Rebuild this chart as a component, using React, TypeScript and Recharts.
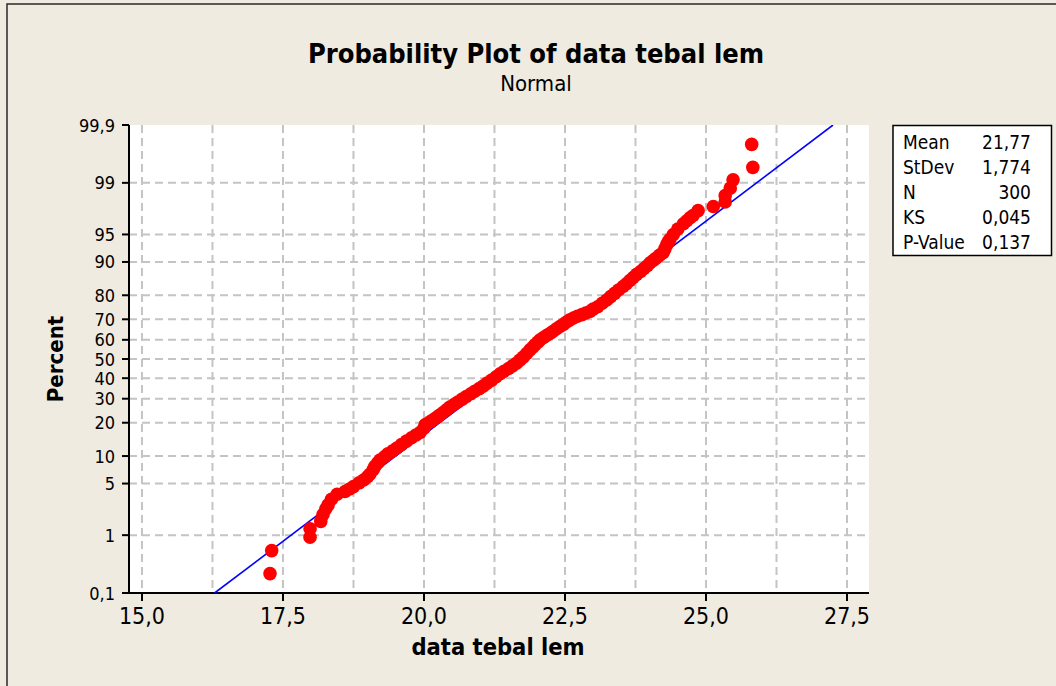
import React from "react";
import { ScatterChart, Scatter, XAxis, YAxis, CartesianGrid } from "recharts";

// ---- data ----
const dataX = [
  17.27, 17.3, 17.98, 17.98, 18.17, 18.21, 18.26, 18.3, 18.36, 18.46, 18.6, 18.68, 18.75, 18.85, 18.93,
  19.0, 19.04, 19.1, 19.13, 19.18, 19.22, 19.3, 19.36, 19.45, 19.52, 19.6, 19.69, 19.78, 19.86, 19.93,
  20.0, 20.02, 20.07, 20.12, 20.17, 20.22, 20.28, 20.34, 20.4, 20.46, 20.53, 20.6, 20.68, 20.75, 20.83,
  20.9, 20.98, 21.05, 21.12, 21.2, 21.28, 21.35, 21.42, 21.5, 21.57, 21.64, 21.7, 21.76, 21.82, 21.88,
  21.93, 21.97, 22.02, 22.06, 22.12, 22.18, 22.24, 22.29, 22.35, 22.41, 22.47, 22.52, 22.58, 22.65, 22.72,
  22.8, 22.87, 22.94, 23.0, 23.08, 23.16, 23.24, 23.31, 23.38, 23.45, 23.53, 23.59, 23.65, 23.71, 23.77,
  23.84, 23.9, 23.96, 24.01, 24.07, 24.12, 24.18, 24.24, 24.27, 24.3, 24.33, 24.36, 24.42, 24.5, 24.6,
  24.66, 24.72, 24.77, 24.86, 25.13, 25.34, 25.34, 25.43, 25.48, 25.83, 25.81,
];
const dataPercent = [
  0.23, 0.57, 0.93, 1.25, 1.6, 2.0, 2.4, 2.7, 3.2, 3.7, 4.0, 4.3, 4.6, 5.1, 5.5,
  6.0, 6.4, 7.2, 7.8, 8.5, 9.1, 9.8, 10.5, 11.3, 12.0, 12.9, 13.9, 14.9, 15.8, 16.6,
  18.0, 19.2, 19.8, 20.5, 21.2, 22.0, 23.0, 24.0, 25.1, 26.3, 27.4, 28.5, 29.8, 31.0, 32.3,
  33.5, 34.8, 36.0, 37.5, 39.0, 40.7, 42.3, 43.6, 45.0, 46.4, 47.8, 49.4, 51.0, 52.9, 54.8,
  56.2, 57.5, 58.8, 60.0, 61.2, 62.3, 63.3, 64.3, 65.5, 66.6, 67.6, 68.6, 69.6, 70.6, 71.4,
  72.1, 72.8, 73.5, 74.5, 75.5, 76.9, 78.2, 79.5, 80.7, 81.9, 83.1, 84.0, 85.0, 85.9, 86.8,
  87.6, 88.4, 89.1, 89.8, 90.4, 90.9, 91.5, 92.0, 92.7, 93.4, 93.9, 94.3, 95.0, 95.7, 96.3,
  96.6, 96.9, 97.1, 97.5, 97.8, 98.1, 98.45, 98.8, 99.1, 99.43, 99.77,
];

const mean = 21.77;
const stdev = 1.774;
const statLabels = ["Mean", "StDev", "N", "KS", "P-Value"];
const statValues = ["21,77", "1,774", "300", "0,045", "0,137"];

const xTicks = [15, 17.5, 20, 22.5, 25, 27.5];
const xGrid = [15, 16.25, 17.5, 18.75, 20, 21.25, 22.5, 23.75, 25, 26.25, 27.5];
const percentTicks = [0.1, 1, 5, 10, 20, 30, 40, 50, 60, 70, 80, 90, 95, 99, 99.9];
const xDomain: [number, number] = [14.77, 27.89];

// inverse standard normal CDF (probability scale transform)
function invNorm(p: number): number {
  const a = [-3.969683028665376e1, 2.209460984245205e2, -2.759285104469687e2, 1.38357751867269e2, -3.066479806614716e1, 2.506628277459239];
  const b = [-5.447609879822406e1, 1.615858368580409e2, -1.556989798598866e2, 6.680131188771972e1, -1.328068155288572e1];
  const c = [-7.784894002430293e-3, -3.223964580411365e-1, -2.400758277161838, -2.549732539343734, 4.374664141464968, 2.938163982698783];
  const d = [7.784695709041462e-3, 3.224671290700398e-1, 2.445134137142996, 3.754408661907416];
  const pl = 0.02425;
  if (p < pl) {
    const q = Math.sqrt(-2 * Math.log(p));
    return (((((c[0] * q + c[1]) * q + c[2]) * q + c[3]) * q + c[4]) * q + c[5]) / ((((d[0] * q + d[1]) * q + d[2]) * q + d[3]) * q + 1);
  }
  if (p <= 1 - pl) {
    const q = p - 0.5;
    const r = q * q;
    return ((((((a[0] * r + a[1]) * r + a[2]) * r + a[3]) * r + a[4]) * r + a[5]) * q) / (((((b[0] * r + b[1]) * r + b[2]) * r + b[3]) * r + b[4]) * r + 1);
  }
  const q = Math.sqrt(-2 * Math.log(1 - p));
  return -(((((c[0] * q + c[1]) * q + c[2]) * q + c[3]) * q + c[4]) * q + c[5]) / ((((d[0] * q + d[1]) * q + d[2]) * q + d[3]) * q + 1);
}

const points = dataX.map((x, i) => ({ x, z: invNorm(dataPercent[i] / 100) }));
const zLow = invNorm(percentTicks[0] / 100);
const zHigh = invNorm(percentTicks[percentTicks.length - 1] / 100);
const fitLine = [
  { x: mean + stdev * zLow, z: zLow },
  { x: mean + stdev * zHigh, z: zHigh },
];
const yTickValues = percentTicks.map((p) => invNorm(p / 100));
const yGridValues = yTickValues.slice(1, -1);
const fmtComma = (v: number) => String(v).replace(".", ",");

const FONT = "'DejaVu Sans Condensed', 'DejaVu Sans', sans-serif";
const BG = "#EFEBE1";

const YTick = (props: any) => {
  const { x, y, payload } = props;
  const idx = yTickValues.findIndex((v) => Math.abs(v - payload.value) < 1e-6);
  const label = idx >= 0 ? fmtComma(percentTicks[idx]) : "";
  return (
    <text x={x} y={y} dy={6.5} textAnchor="end" fontFamily={FONT} fontSize={18} fill="#000">
      {label}
    </text>
  );
};

const XTick = (props: any) => {
  const { x, y, payload } = props;
  return (
    <text x={x} y={y} dy={21} textAnchor="middle" fontFamily={FONT} fontSize={23} fill="#000">
      {payload.value.toFixed(1).replace(".", ",")}
    </text>
  );
};

const Dot = (props: any) => {
  const { cx, cy } = props;
  if (cx == null || cy == null) return <g />;
  return <circle cx={cx} cy={cy} r={6.8} fill="#FF0000" />;
};

const NoDot = () => <g />;

export default function App() {
  return (
    <div style={{ position: "absolute", left: 0, top: 0, width: 1056, height: 686, background: BG, overflow: "hidden" }}>
      <ScatterChart width={1056} height={686} margin={{ top: 125, right: 187, bottom: 43, left: 69 }}>
        <CartesianGrid
          fill="#FFFFFF"
          fillOpacity={1}
          stroke="#C4C4C4"
          strokeWidth={2}
          strokeDasharray="8 5"
          verticalValues={xGrid}
          horizontalValues={yGridValues}
        />
        <XAxis
          dataKey="x"
          type="number"
          domain={xDomain}
          ticks={xTicks}
          allowDataOverflow
          height={50}
          tickSize={8}
          tickMargin={2}
          tick={XTick}
          axisLine={{ stroke: "#000", strokeWidth: 2 }}
          tickLine={{ stroke: "#000", strokeWidth: 2 }}
        />
        <XAxis
          xAxisId="top"
          orientation="top"
          type="number"
          domain={xDomain}
          allowDataOverflow
          height={0}
          tick={false}
          tickLine={false}
          axisLine={{ stroke: "#000", strokeWidth: 2 }}
        />
        <YAxis
          dataKey="z"
          type="number"
          domain={[zLow, zHigh]}
          ticks={yTickValues}
          allowDataOverflow
          width={60}
          tickSize={7}
          tickMargin={7}
          tick={YTick}
          interval={0}
          axisLine={{ stroke: "#000", strokeWidth: 2 }}
          tickLine={{ stroke: "#000", strokeWidth: 2 }}
        />
        <YAxis
          yAxisId="right"
          orientation="right"
          type="number"
          domain={[zLow, zHigh]}
          allowDataOverflow
          width={0}
          tick={false}
          tickLine={false}
          axisLine={{ stroke: "#000", strokeWidth: 2 }}
        />
        <Scatter
          data={fitLine}
          line={{ stroke: "#0000FF", strokeWidth: 1.6 }}
          shape={NoDot}
          isAnimationActive={false}
        />
        <Scatter data={points} shape={Dot} fill="#FF0000" isAnimationActive={false} />
      </ScatterChart>
      <svg
        width={1056}
        height={686}
        style={{ position: "absolute", left: 0, top: 0, pointerEvents: "none" }}
      >
        <rect x={7} y={4} width={1100} height={800} fill="none" stroke="#2A2A2A" strokeWidth={1.5} />
        <text x={536} y={63} textAnchor="middle" fontFamily={FONT} fontWeight="bold" fontSize={27} fill="#000">
          Probability Plot of data tebal lem
        </text>
        <text x={536} y={91} textAnchor="middle" fontFamily={FONT} fontSize={22} fill="#000">
          Normal
        </text>
        <text x={498} y={655} textAnchor="middle" fontFamily={FONT} fontWeight="bold" fontSize={23.5} fill="#000">
          data tebal lem
        </text>
        <text
          x={63}
          y={359}
          transform="rotate(-90 63 359)"
          textAnchor="middle"
          fontFamily={FONT}
          fontWeight="bold"
          fontSize={22}
          fill="#000"
        >
          Percent
        </text>
        <rect x={893} y={125.5} width={158.5} height={130} fill="#FFFFFF" stroke="#000" strokeWidth={1.5} />
        {statLabels.map((l, i) => (
          <g key={l}>
            <text x={903} y={149 + i * 25} fontFamily={FONT} fontSize={19} fill="#000">
              {l}
            </text>
            <text x={1031} y={149 + i * 25} textAnchor="end" fontFamily={FONT} fontSize={19} fill="#000">
              {statValues[i]}
            </text>
          </g>
        ))}
      </svg>
    </div>
  );
}
